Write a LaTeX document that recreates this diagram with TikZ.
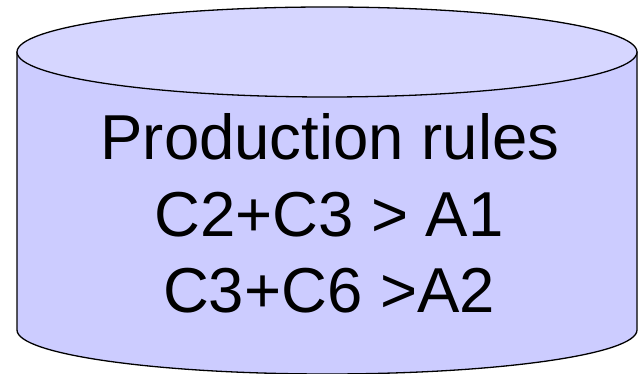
\documentclass[tikz,border=0pt]{standalone}
\usepackage{fontspec}
\setmainfont{Liberation Sans}
\definecolor{bodyfill}{RGB}{204,204,255}
\definecolor{topfill}{RGB}{214,214,255}
\begin{document}
\begin{tikzpicture}[x=1pt,y=1pt,
  outline/.style={draw=black,line width=1.3pt},
  rule/.style={font=\fontsize{63.5}{76}\selectfont,anchor=base,inner sep=0pt}]
\useasboundingbox (0,0) rectangle (638,374);
\path[outline,fill=bodyfill,line join=round] (17,322) -- (17,44)
  arc[start angle=180,end angle=360,x radius=310,y radius=44] -- (637,322) -- cycle;
\path[outline,fill=topfill] (327,322) ellipse[x radius=310,y radius=45];
\node[rule] (l1) at (330,214) {Production rules};
\node[rule] (l2) at (329,137) {C2+C3 > A1};
\node[rule] (l3) at (329,61) {C3+C6 >A2};
\end{tikzpicture}
\end{document}
